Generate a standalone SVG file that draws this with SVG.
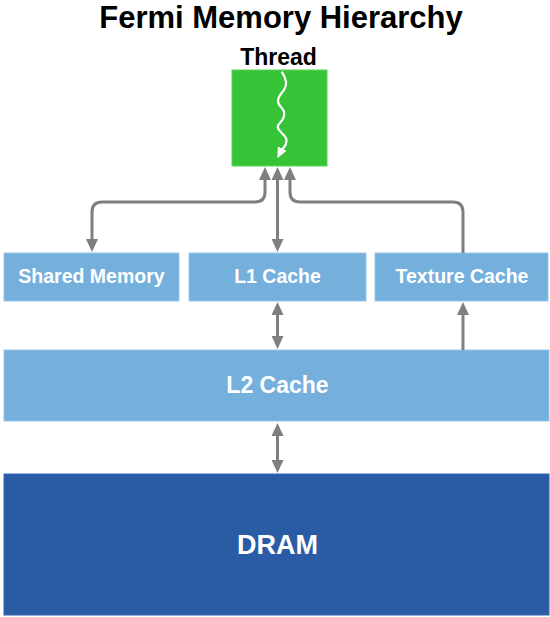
<svg xmlns="http://www.w3.org/2000/svg" width="550" height="617" viewBox="0 0 550 617">
<style>
text{font-family:"Liberation Sans",Arial,sans-serif;font-weight:bold;text-anchor:middle}
.box{fill:#75b0dd;stroke:#9cc6ea;stroke-width:1}
.lbl{fill:#ffffff;font-size:19.5px}
.conn{fill:none;stroke:#7f7f7f;stroke-width:3}
</style>
<defs>
<marker id="ah" viewBox="0 0 13 12" markerWidth="13" markerHeight="12" refX="7" refY="6" orient="auto-start-reverse" markerUnits="userSpaceOnUse">
<path d="M0,0 L13,6 L0,12 z" fill="#7f7f7f"/>
</marker>
<marker id="wh" viewBox="0 0 11 10" markerWidth="11" markerHeight="10" refX="4" refY="5" orient="auto" markerUnits="userSpaceOnUse">
<path d="M0,0 L11,5 L0,10 z" fill="#ffffff"/>
</marker>
</defs>
<rect width="550" height="617" fill="#ffffff"/>
<text id="title" x="281" y="28" font-size="31" fill="#000000">Fermi Memory Hierarchy</text>
<g id="thread">
<text x="278.5" y="65" font-size="23" fill="#000000">Thread</text>
<rect x="232" y="70" width="95" height="96" fill="#37c337" stroke="#5ad65a" stroke-width="1"/>
<path d="M281.7,71.7 C286,78 288,84 284,90 C279,96 275,101 281,107 C286,112 285,118 279,124 C274,130 286,134 286.5,140 C287,146 282,149 280.5,152" fill="none" stroke="#ffffff" stroke-width="2.2" marker-end="url(#wh)"/>
</g>
<g id="shared-memory">
<rect class="box" x="4" y="253" width="175" height="48"/>
<text class="lbl" x="91.5" y="283">Shared Memory</text>
</g>
<g id="l1-cache">
<rect class="box" x="189" y="253" width="177" height="48"/>
<text class="lbl" x="277.5" y="283">L1 Cache</text>
</g>
<g id="texture-cache">
<rect class="box" x="375" y="253" width="173" height="48"/>
<text class="lbl" x="462" y="283">Texture Cache</text>
</g>
<g id="l2-cache">
<rect class="box" x="4" y="350" width="545" height="71"/>
<text class="lbl" x="277.5" y="393" style="font-size:23px">L2 Cache</text>
</g>
<g id="dram">
<rect x="4" y="474" width="545" height="141" fill="#2a5ca6" stroke="#3366b0" stroke-width="1"/>
<text x="277.5" y="554" font-size="27" fill="#ffffff">DRAM</text>
</g>
<g id="connectors">
<path class="conn" d="M265,173 V192 Q265,202 255,202 H102 Q92,202 92,212 V246" marker-start="url(#ah)" marker-end="url(#ah)"/>
<path class="conn" d="M277.5,173 V246" marker-start="url(#ah)" marker-end="url(#ah)"/>
<path class="conn" d="M463,253 V212 Q463,202 453,202 H300 Q290,202 290,192 V173" marker-end="url(#ah)"/>
<path class="conn" d="M277.5,308 V343" marker-start="url(#ah)" marker-end="url(#ah)"/>
<path class="conn" d="M463,350 V308" marker-end="url(#ah)"/>
<path class="conn" d="M277.5,429 V467" marker-start="url(#ah)" marker-end="url(#ah)"/>
</g>
</svg>
